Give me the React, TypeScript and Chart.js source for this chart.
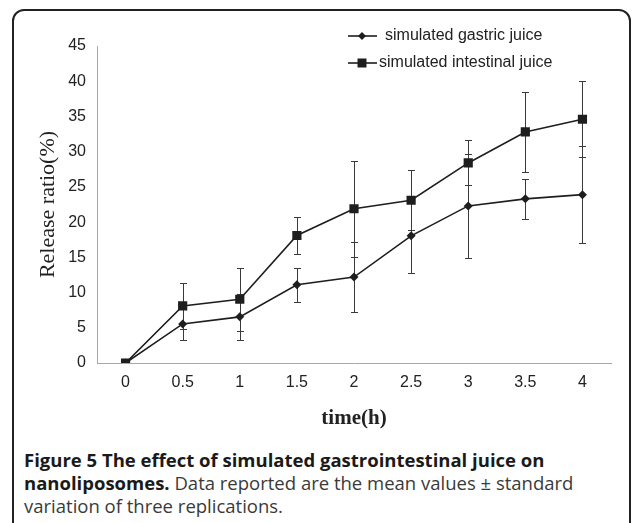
import React, { useEffect, useRef } from 'react';
import { Chart, registerables } from 'chart.js';

Chart.register(...registerables);

const timeLabels = ['0', '0.5', '1', '1.5', '2', '2.5', '3', '3.5', '4'];
const gastricMean = [0, 5.55, 6.55, 11.1, 12.2, 18.05, 22.3, 23.3, 23.9];
const gastricSD = [0, 2.3, 3.25, 2.45, 5.0, 5.3, 7.4, 2.8, 6.9];
const intestinalMean = [0, 8.1, 9.05, 18.1, 21.9, 23.1, 28.4, 32.8, 34.6];
const intestinalSD = [0, 3.3, 4.5, 2.6, 6.8, 4.25, 3.2, 5.7, 5.4];
const seriesNames = ['simulated gastric juice', 'simulated intestinal juice'];
const yMin = 0;
const yMax = 45;
const yStep = 5;
const xTitle = 'time(h)';
const yTitle = 'Release ratio(%)';

const LINE = '#1e1e1e';
const SANS = '"Liberation Sans", Arial, sans-serif';
const SERIF = '"Liberation Serif", "Times New Roman", serif';

const errorBarPlugin = {
  id: 'errorBars',
  beforeDatasetsDraw(chart: any) {
    const ctx = chart.ctx;
    const yScale = chart.scales.y;
    ctx.save();
    ctx.strokeStyle = '#3a3a3a';
    ctx.lineWidth = 1;
    chart.data.datasets.forEach((ds: any, i: number) => {
      const meta = chart.getDatasetMeta(i);
      const errs: number[] = ds.errors || [];
      meta.data.forEach((pt: any, j: number) => {
        const e = errs[j];
        if (!e) return;
        const v = ds.data[j];
        const x = Math.round(pt.x) + 0.5;
        const yHi = Math.round(yScale.getPixelForValue(v + e)) + 0.5;
        const yLo = Math.round(yScale.getPixelForValue(v - e)) + 0.5;
        const cap = 3.5;
        ctx.beginPath();
        ctx.moveTo(x, yHi);
        ctx.lineTo(x, yLo);
        ctx.moveTo(x - cap, yHi);
        ctx.lineTo(x + cap, yHi);
        ctx.moveTo(x - cap, yLo);
        ctx.lineTo(x + cap, yLo);
        ctx.stroke();
      });
    });
    ctx.restore();
  },
};

const legendPlugin = {
  id: 'customLegend',
  afterDraw(chart: any) {
    const ctx = chart.ctx;
    const entries = [
      { y: 36, textX: 385, style: 'diamond' },
      { y: 63, textX: 379, style: 'square' },
    ];
    ctx.save();
    chart.data.datasets.forEach((ds: any, i: number) => {
      const en = entries[i];
      if (!en) return;
      ctx.strokeStyle = LINE;
      ctx.fillStyle = LINE;
      ctx.lineWidth = 1.6;
      ctx.beginPath();
      ctx.moveTo(348, en.y);
      ctx.lineTo(377, en.y);
      ctx.stroke();
      const cx = 362;
      ctx.beginPath();
      if (en.style === 'diamond') {
        ctx.moveTo(cx, en.y - 4);
        ctx.lineTo(cx + 4, en.y);
        ctx.lineTo(cx, en.y + 4);
        ctx.lineTo(cx - 4, en.y);
        ctx.closePath();
      } else {
        ctx.rect(cx - 4.5, en.y - 4.5, 9, 9);
      }
      ctx.fill();
      ctx.fillStyle = '#222';
      ctx.font = '16px ' + SANS;
      ctx.textBaseline = 'middle';
      ctx.textAlign = 'left';
      ctx.fillText(ds.label, en.textX, en.y);
    });
    ctx.restore();
  },
};

function ReleaseChart() {
  const ref = useRef<HTMLCanvasElement | null>(null);
  useEffect(() => {
    if (!ref.current) return;
    const chart = new Chart(ref.current, {
      type: 'line',
      data: {
        labels: timeLabels,
        datasets: [
          {
            label: seriesNames[0],
            data: gastricMean,
            errors: gastricSD,
            borderColor: LINE,
            backgroundColor: LINE,
            borderWidth: 1.6,
            pointStyle: 'rectRot',
            pointRadius: 4.5,
            pointBorderWidth: 0,
            pointBackgroundColor: LINE,
            tension: 0,
          } as any,
          {
            label: seriesNames[1],
            data: intestinalMean,
            errors: intestinalSD,
            borderColor: LINE,
            backgroundColor: LINE,
            borderWidth: 1.6,
            pointStyle: 'rect',
            pointRadius: 6.5,
            pointBorderWidth: 0,
            pointBackgroundColor: LINE,
            tension: 0,
          } as any,
        ],
      },
      options: {
        animation: false,
        responsive: false,
        maintainAspectRatio: false,
        layout: { padding: { left: 0, top: 46, right: 23, bottom: 0 } },
        plugins: {
          legend: { display: false },
          tooltip: { enabled: false },
        },
        scales: {
          x: {
            type: 'category',
            offset: true,
            grid: { display: true, drawOnChartArea: false, drawTicks: false },
            border: { display: true, color: '#a8a8a8', width: 1 },
            ticks: {
              color: '#222',
              padding: 10,
              font: { family: SANS, size: 16 },
              maxRotation: 0,
            },
            title: {
              display: true,
              text: xTitle,
              color: '#222',
              font: { family: SERIF, size: 21, weight: 'bold' },
              padding: { top: 0, bottom: 9 },
            },
            afterFit(scale: any) {
              scale.height = 77;
            },
          },
          y: {
            min: yMin,
            max: yMax,
            grid: { display: true, drawOnChartArea: false, drawTicks: false },
            border: { display: true, color: '#a8a8a8', width: 1 },
            ticks: {
              stepSize: yStep,
              color: '#222',
              padding: 11,
              font: { family: SANS, size: 16 },
            },
            title: {
              display: true,
              text: yTitle,
              color: '#222',
              font: { family: SERIF, size: 22 },
              padding: { top: 35, bottom: 0 },
            },
            afterFit(scale: any) {
              scale.width = 97;
            },
          },
        },
      },
      plugins: [errorBarPlugin, legendPlugin],
    } as any);
    return () => chart.destroy();
  }, []);
  return <canvas ref={ref} width={634} height={440} style={{ position: 'absolute', left: 0, top: 0 }} />;
}

export default function App() {
  return (
    <div style={{ position: 'absolute', left: 0, top: 0, width: 634, height: 523, overflow: 'hidden', background: '#fff' }}>
      <div
        style={{
          position: 'absolute',
          left: 12,
          top: 9,
          width: 619,
          height: 540,
          border: '2px solid #222',
          borderRadius: 12,
          boxSizing: 'border-box',
        }}
      />
      <ReleaseChart />
      <div
        style={{
          position: 'absolute',
          left: 24,
          top: 448,
          fontFamily: '"Open Sans", "Noto Sans", sans-serif',
          fontSize: 18.5,
          lineHeight: '23px',
          color: '#3a3a3a',
          whiteSpace: 'nowrap',
        }}
      >
        <b style={{ color: '#1a1a1a' }}>Figure 5 The effect of simulated gastrointestinal juice on</b>
        <br />
        <b style={{ color: '#1a1a1a' }}>nanoliposomes.</b> Data reported are the mean values ± standard
        <br />
        variation of three replications.
      </div>
    </div>
  );
}
